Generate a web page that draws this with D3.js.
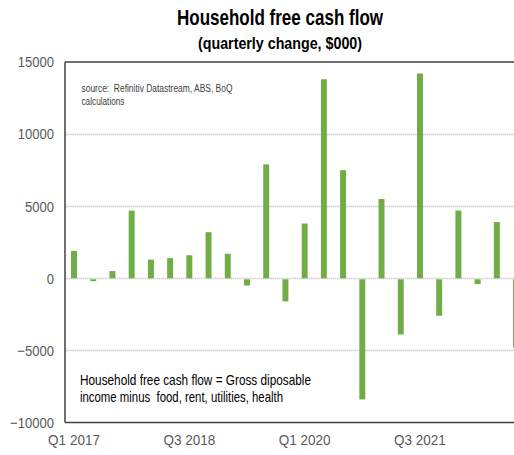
<!DOCTYPE html>
<html><head><meta charset="utf-8">
<script src="https://cdn.jsdelivr.net/npm/d3@7"></script>
<style>
html,body{margin:0;padding:0;background:#fff;}
svg{display:block;}
text{font-family:"Liberation Sans",Arial,sans-serif;white-space:pre;}
</style></head>
<body>
<svg id="chart" width="514" height="455"></svg>
<script>
const quarters = ["Q1 2017","Q2 2017","Q3 2017","Q4 2017","Q1 2018","Q2 2018","Q3 2018","Q4 2018",
  "Q1 2019","Q2 2019","Q3 2019","Q4 2019","Q1 2020","Q2 2020","Q3 2020","Q4 2020",
  "Q1 2021","Q2 2021","Q3 2021","Q4 2021","Q1 2022","Q2 2022","Q3 2022","Q4 2022"];
const values = [1900,-200,500,4700,1300,1400,1600,3200,1700,-500,7900,-1600,
  3800,13800,7500,-8400,5500,-3900,14200,-2600,4700,-400,3900,-4800];
const yTicks = [-10000,-5000,0,5000,10000,15000];
const xTickLabels = ["Q1 2017","Q3 2018","Q1 2020","Q3 2021"];
const title = "Household free cash flow";
const subtitle = "(quarterly change, $000)";
const sourceLines = ["source:  Refinitiv Datastream, ABS, BoQ","calculations"];
const noteLines = ["Household free cash flow = Gross diposable","income minus  food, rent, utilities, health"];

const svg = d3.select("#chart");
const mLeft = 65, mTop = 62, mBottom = 422.5;
const step = 19.22;
const x = d3.scaleBand().domain(quarters).range([mLeft - 0.6, mLeft - 0.6 + step*quarters.length]).paddingInner(0.69).paddingOuter(0.345);
const y = d3.scaleLinear().domain([-10000,15000]).range([mBottom, mTop]);

function condense(sel, f){
  sel.each(function(){
    const w = this.getComputedTextLength();
    d3.select(this).attr("textLength", w*f).attr("lengthAdjust","spacingAndGlyphs");
  });
}

// gridlines
svg.append("g").selectAll("line").data(yTicks.filter(d=>d>-10000 && d<15000)).join("line")
  .attr("x1", mLeft).attr("x2", 514)
  .attr("y1", d=>Math.round(y(d))+0.5).attr("y2", d=>Math.round(y(d))+0.5)
  .attr("stroke","#d0d0d0").attr("stroke-width",1.5).attr("stroke-dasharray","1.5,0.5");

// bars
svg.append("g").selectAll("rect").data(values).join("rect")
  .attr("x",(d,i)=>x(quarters[i]))
  .attr("width",x.bandwidth())
  .attr("y",d=>d>=0 ? y(d) : y(0)+1)
  .attr("height",d=>Math.abs(y(d)-y(0)) - (d<0?1:0))
  .attr("fill","#70ad47");

// frame lines
svg.append("line").attr("x1",mLeft).attr("x2",514).attr("y1",mTop).attr("y2",mTop).attr("stroke","#404040").attr("stroke-width",1.5);
svg.append("line").attr("x1",mLeft).attr("x2",514).attr("y1",mBottom).attr("y2",mBottom).attr("stroke","#404040").attr("stroke-width",1.5);
svg.append("line").attr("x1",mLeft).attr("x2",mLeft).attr("y1",mTop).attr("y2",mBottom).attr("stroke","#404040").attr("stroke-width",1.5);

// y axis labels
const yAxis = d3.axisLeft(y).tickValues(yTicks).tickSize(0).tickPadding(11).tickFormat(d3.format("d"));
const gy = svg.append("g").attr("transform",`translate(${mLeft},0)`).call(yAxis);
gy.select(".domain").remove();
gy.selectAll("text").attr("fill","#595959").style("font-size","15px").style("font-family","\"Liberation Sans\",Arial,sans-serif");
condense(gy.selectAll("text"), 0.87);

// x axis labels
const xAxis = d3.axisBottom(x).tickValues(xTickLabels).tickSize(0).tickPadding(12);
const gx = svg.append("g").attr("transform",`translate(0,${mBottom})`).call(xAxis);
gx.select(".domain").remove();
gx.selectAll("text").attr("fill","#595959").style("font-size","15px").style("font-family","\"Liberation Sans\",Arial,sans-serif");
condense(gx.selectAll("text"), 0.9);

// titles
svg.append("text").attr("x",280).attr("y",25).attr("text-anchor","middle")
  .style("font-size","22px").style("font-weight","bold").attr("fill","#000")
  .attr("textLength",206).attr("lengthAdjust","spacingAndGlyphs").text(title);
svg.append("text").attr("x",280).attr("y",49).attr("text-anchor","middle")
  .style("font-size","16px").style("font-weight","bold").attr("fill","#000")
  .attr("textLength",164).attr("lengthAdjust","spacingAndGlyphs").text(subtitle);

// source
const srcLens = [151, 43];
svg.append("g").selectAll("text").data(sourceLines).join("text")
  .attr("x",81.5).attr("y",(d,i)=>92+i*13).style("font-size","10px").attr("fill","#404040")
  .attr("textLength",(d,i)=>srcLens[i]).attr("lengthAdjust","spacingAndGlyphs").text(d=>d);

// note
const noteLens = [231, 203];
svg.append("g").selectAll("text").data(noteLines).join("text")
  .attr("x",80).attr("y",(d,i)=>385+i*17).style("font-size","15px").attr("fill","#000")
  .attr("textLength",(d,i)=>noteLens[i]).attr("lengthAdjust","spacingAndGlyphs").text(d=>d);
</script>
</body></html>
